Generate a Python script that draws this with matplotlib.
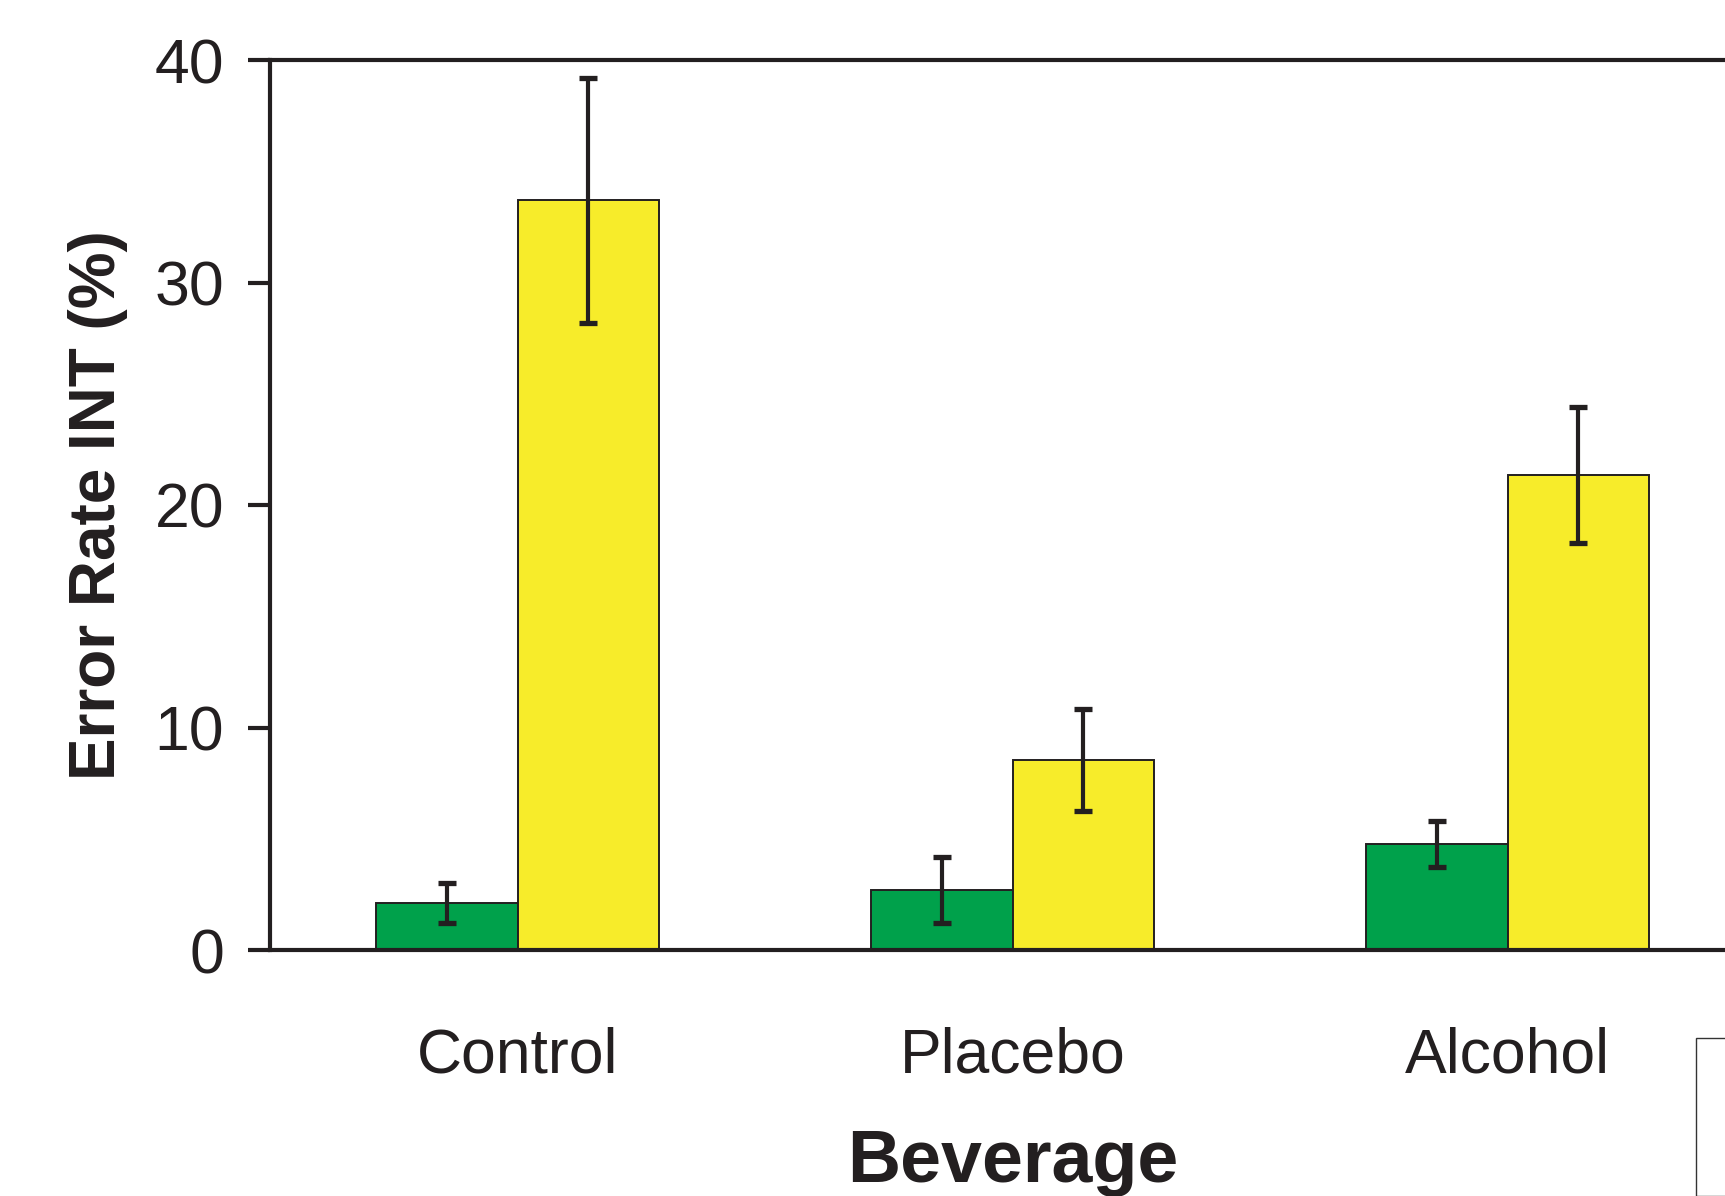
import matplotlib
matplotlib.use("Agg")
import matplotlib.pyplot as plt
from matplotlib.patches import Rectangle
import numpy as np

# ---- data ----
categories = ["Control", "Placebo", "Alcohol"]
series_a_values = [2.1, 2.7, 4.75]      # green bars
series_a_errors = [0.9, 1.5, 1.03]
series_b_values = [33.7, 8.55, 21.35]   # yellow bars
series_b_errors = [5.5, 2.3, 3.05]
y_ticks = [0, 10, 20, 30, 40]

plt.rcParams['font.family'] = ['Liberation Sans', 'DejaVu Sans']

W, H = 1725, 1196
fig = plt.figure(figsize=(W / 100, H / 100), dpi=100)
ax = fig.add_axes([270 / W, (H - 950) / H, 1485 / W, 890 / H])

dark = "#231F20"
green = "#00A14B"
yellow = "#F7EC2A"
x = np.arange(len(categories))
bw = 0.2857

err_kw = dict(ecolor=dark, elinewidth=3.0, capsize=6.5, capthick=3.8)
ax.bar(x - bw / 2, series_a_values, bw, color=green, edgecolor=dark,
       linewidth=1.4, yerr=series_a_errors, error_kw=err_kw, zorder=2)
ax.bar(x + bw / 2, series_b_values, bw, color=yellow, edgecolor=dark,
       linewidth=1.4, yerr=series_b_errors, error_kw=err_kw, zorder=2)

ax.set_xlim(-0.5, 2.5)
ax.set_ylim(0, 40)
ax.set_yticks(y_ticks)
ax.set_yticklabels([str(v) for v in y_ticks])
ax.set_xticks(x)
ax.set_xticklabels(categories)

for s in ["left", "top", "bottom"]:
    ax.spines[s].set_linewidth(3.0)
    ax.spines[s].set_color(dark)
ax.spines["right"].set_visible(False)

ax.tick_params(axis="y", direction="out", length=16, width=3.0, color=dark,
               labelsize=45, pad=17, labelcolor=dark)
ax.tick_params(axis="x", length=0, labelsize=45, pad=55, labelcolor=dark)

ax.set_ylabel("Error Rate INT (%)", fontsize=46, fontweight="bold", color=dark,
              labelpad=19)
ax.set_xlabel("Beverage", fontsize=53, fontweight="bold", color=dark,
              labelpad=31)

# partially visible legend frame at the bottom-right corner
fig.patches.append(Rectangle((1696 / W, 0), 60 / W, (H - 1038) / H,
                             transform=fig.transFigure, facecolor="white",
                             edgecolor="#333333", linewidth=1.0))

fig.savefig("out.png", dpi=100)
